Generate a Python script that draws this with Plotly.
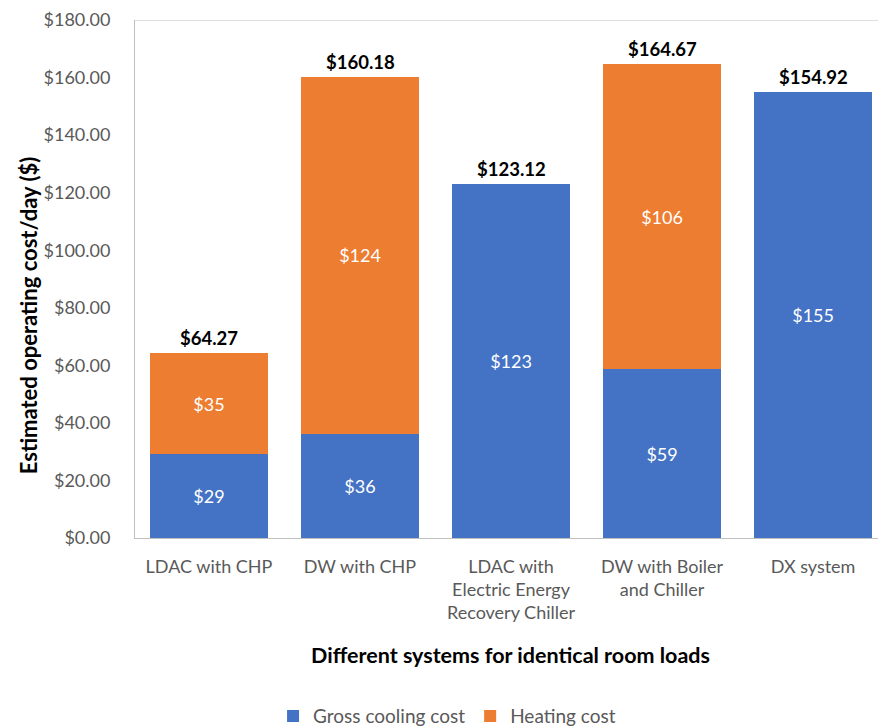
import plotly.graph_objects as go

categories = ["LDAC with CHP", "DW with CHP", "LDAC with<br>Electric Energy<br>Recovery Chiller",
              "DW with Boiler<br>and Chiller", "DX system"]
cooling = [29.2, 36.2, 123.12, 58.6, 154.92]
heating = [35.07, 123.98, None, 106.07, None]
totals = [64.27, 160.18, 123.12, 164.67, 154.92]
y_ticks = [0, 20, 40, 60, 80, 100, 120, 140, 160, 180]

BLUE = "#4472C4"
ORANGE = "#ED7D31"
FONT = "Lato"
GRAY = "#595959"

x = list(range(len(categories)))

fig = go.Figure()
fig.add_trace(go.Bar(
    x=x, y=cooling, name="Gross cooling cost", marker=dict(color=BLUE, line=dict(width=0)),
    width=0.78, text=[f"${v:.0f}" for v in cooling], textposition="inside",
    insidetextanchor="middle", textfont=dict(color="white", size=18, family=FONT),
    textangle=0,
))
fig.add_trace(go.Bar(
    x=x, y=heating, name="Heating cost", marker=dict(color=ORANGE, line=dict(width=0)),
    width=0.78, text=[f"${v:.0f}" if v else "" for v in heating], textposition="inside",
    insidetextanchor="middle", textfont=dict(color="white", size=18, family=FONT),
    textangle=0,
))

for xi, t in zip(x, totals):
    fig.add_annotation(x=xi, y=t, text=f"<b>${t:.2f}</b>", showarrow=False,
                       yanchor="bottom", yshift=2,
                       font=dict(size=18.5, color="black", family=FONT))

fig.add_shape(type="line", xref="paper", x0=0, x1=1, yref="y", y0=180, y1=180,
              line=dict(color="#BFBFBF", width=1))

fig.add_annotation(xref="paper", yref="paper", x=-0.144, y=0.43, textangle=-90,
                   text="<b>Estimated operating cost/day ($)</b>", showarrow=False,
                   xanchor="center", yanchor="middle",
                   font=dict(size=22, color="black", family=FONT))
fig.add_annotation(xref="paper", yref="paper", x=0.505, y=-0.226,
                   text="<b>Different systems for identical room loads</b>", showarrow=False,
                   xanchor="center", yanchor="middle",
                   font=dict(size=21.5, color="black", family=FONT))

fig.update_layout(
    width=878, height=726,
    margin=dict(l=135, r=0, t=20, b=188, autoexpand=False),
    barmode="stack",
    plot_bgcolor="white", paper_bgcolor="white",
    font=dict(family=FONT, size=18, color=GRAY),
    legend=dict(orientation="h", x=0.42, y=-0.344, xanchor="center", yanchor="middle",
                font=dict(size=19, color=GRAY, family=FONT), traceorder="normal",
                itemwidth=30),
    xaxis=dict(
        range=[-0.49, 4.43], tickmode="array", tickvals=x, ticktext=categories,
        showline=True, linecolor="#BFBFBF", linewidth=1, showgrid=False, zeroline=False,
        ticks="", tickfont=dict(size=18, color=GRAY, family=FONT), ticklabelstandoff=12,
    ),
    yaxis=dict(
        range=[0, 180], tickmode="array", tickvals=y_ticks,
        ticktext=[f"${v:.2f}" for v in y_ticks],
        showline=True, linecolor="#BFBFBF", linewidth=1, showgrid=False, zeroline=False,
        ticks="", tickfont=dict(size=18, color=GRAY, family=FONT), ticklabelstandoff=20,
    ),
)

fig.write_html("out.html")
